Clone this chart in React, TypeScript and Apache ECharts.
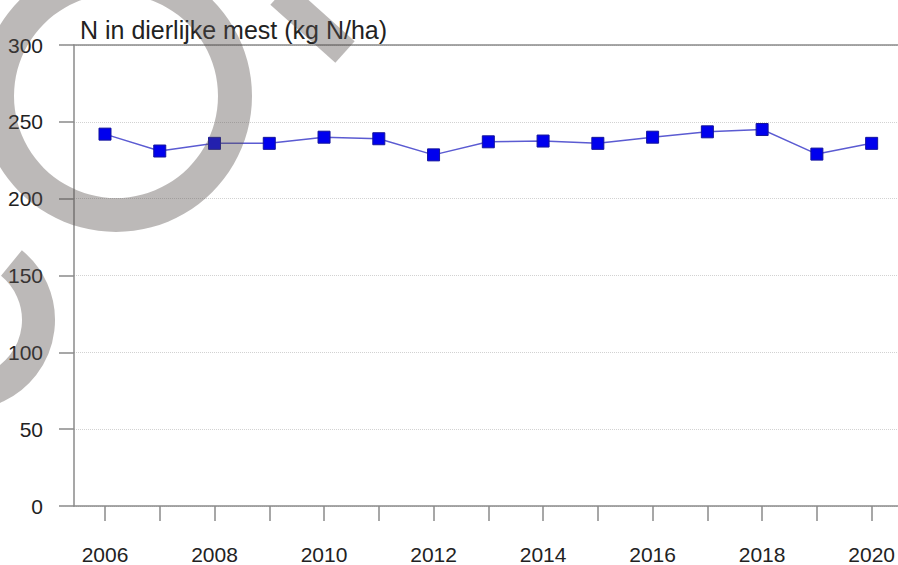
import React, { useEffect, useRef } from "react";
import * as echarts from "echarts";

const years = [2006, 2007, 2008, 2009, 2010, 2011, 2012, 2013, 2014, 2015, 2016, 2017, 2018, 2019, 2020];
const nManure = [242, 231, 236, 236, 240, 239, 228.5, 237, 237.5, 236, 240, 243.5, 245, 229, 236];
const xLabelYears = [2006, 2008, 2010, 2012, 2014, 2016, 2018, 2020];
const titleText = "N in dierlijke mest (kg N/ha)";

const FONT = '"Liberation Sans", Arial, Helvetica, sans-serif';
const AXIS = "#8a8a8a";
const WM = "rgb(88,80,78)";

export default function App() {
  const ref = useRef<HTMLDivElement>(null);
  useEffect(() => {
    document.body.style.margin = "0";
    if (!ref.current) return;
    const chart = echarts.init(ref.current, null, { renderer: "svg" });
    const xMin = 2005.434;
    const xMax = 2020.475;
    chart.setOption({
      animation: false,
      backgroundColor: "#ffffff",
      grid: { left: 74, right: 0, top: 45, bottom: 58, containLabel: false },
      xAxis: [
        {
          type: "value",
          min: xMin,
          max: xMax,
          axisLine: { show: true, onZero: false, lineStyle: { color: AXIS, width: 1.5 } },
          axisTick: { show: true, length: 15, customValues: years, lineStyle: { color: AXIS, width: 1.5 } },
          axisLabel: {
            customValues: xLabelYears,
            margin: 38,
            fontSize: 21,
            fontFamily: FONT,
            color: "#222",
            formatter: (v: number) => String(Math.round(v)),
          },
          splitLine: { show: false },
        },
        {
          type: "value",
          position: "top",
          min: xMin,
          max: xMax,
          axisLine: { show: true, onZero: false, lineStyle: { color: AXIS, width: 1.5 } },
          axisTick: { show: false },
          axisLabel: { show: false },
          splitLine: { show: false },
        },
      ],
      yAxis: {
        type: "value",
        min: 0,
        max: 300,
        interval: 50,
        axisLine: { show: true, lineStyle: { color: AXIS, width: 1.5 } },
        axisTick: { show: true, length: 15, lineStyle: { color: AXIS, width: 1.5 } },
        axisLabel: { margin: 31, fontSize: 21, fontFamily: FONT, color: "#222" },
        splitLine: { show: true, lineStyle: { color: "#d2d2d2", type: "dotted", width: 1 } },
      },
      series: [
        {
          type: "line",
          data: years.map((y, i) => [y, nManure[i]]),
          symbol: "rect",
          symbolSize: 12,
          lineStyle: { color: "#5b5bd2", width: 1.5 },
          itemStyle: { color: "#0000ee", borderColor: "#14149c", borderWidth: 1 },
        },
      ],
      graphic: [
        {
          type: "text",
          x: 80,
          y: 30,
          z: 50,
          silent: true,
          style: { text: titleText, fontSize: 25, fontFamily: FONT, fill: "#222", verticalAlign: "middle" },
        },
        {
          type: "ring",
          z: 100,
          silent: true,
          shape: { cx: 116, cy: 96, r: 136, r0: 102 },
          style: { fill: WM, opacity: 0.4 },
        },
        {
          type: "line",
          z: 100,
          silent: true,
          shape: { x1: 280, y1: -6, x2: 345, y2: 52 },
          style: { stroke: WM, lineWidth: 29, lineCap: "butt", opacity: 0.4 },
        },
        {
          type: "arc",
          z: 100,
          silent: true,
          shape: { cx: -35, cy: 320, r: 73.5, startAngle: -0.887, endAngle: Math.PI, clockwise: true },
          style: { stroke: WM, lineWidth: 33, fill: "none", lineCap: "butt", opacity: 0.4 },
        },
      ],
    });
    return () => chart.dispose();
  }, []);
  return <div ref={ref} style={{ width: 898, height: 565 }} />;
}
